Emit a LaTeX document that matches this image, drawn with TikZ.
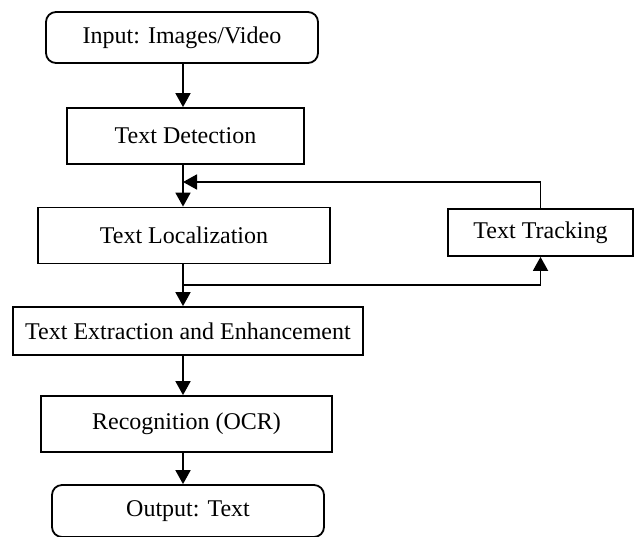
\documentclass[tikz,border=0pt]{standalone}
\usepackage{fontspec}
\setmainfont{Liberation Serif}
\usetikzlibrary{arrows.meta}

\begin{document}
\begin{tikzpicture}[x=0.5pt,y=-0.5pt,
    >={Triangle[length=7pt,width=7.5pt]},
    box/.style={draw,line width=0.9pt,inner sep=0pt,font=\fontsize{12}{14}\selectfont},
    term/.style={box,rounded corners=5pt}]
    \useasboundingbox (0,0) rectangle (635,536);

    % Input and detection
    \node[term,minimum width=136pt,minimum height=25.5pt] (inp) at (182,37.5) {Input: Images/Video};
    \node[box,minimum width=118.5pt,minimum height=28pt] (det) at (185.5,136) {Text Detection};

    % Localization and tracking loop
    \node[box,minimum width=146pt,minimum height=28pt] (loc) at (184,235.5) {Text Localization};
    \node[box,minimum width=92.5pt,minimum height=23.5pt] (trk) at (540.5,232.5) {Text Tracking};
    \coordinate (jin) at (183,182);
    \coordinate (jout) at (183,285);

    % Extraction, recognition and output
    \node[box,minimum width=175pt,minimum height=24pt] (ext) at (188,331) {Text Extraction and Enhancement};
    \node[box,minimum width=145.5pt,minimum height=28pt] (ocr) at (186.5,424) {Recognition (OCR)};
    \node[term,minimum width=136pt,minimum height=26pt] (out) at (188,511) {Output: Text};

    % Main flow
    \begin{scope}[line width=0.9pt]
        \draw[->] (jin |- inp.south) -- (jin |- det.north);
        \draw[->] (jin |- det.south) -- (jin |- loc.north);
        \draw[->] (jout |- loc.south) -- (jout |- ext.north);
        \draw[->] (jout |- ext.south) -- (jout |- ocr.north);
        \draw[->] (jout |- ocr.south) -- (jout |- out.north);
        % Tracking feedback
        \draw[->] (jout) -| (trk.south);
        \draw[->] (trk.north) |- (jin);
    \end{scope}
\end{tikzpicture}
\end{document}
